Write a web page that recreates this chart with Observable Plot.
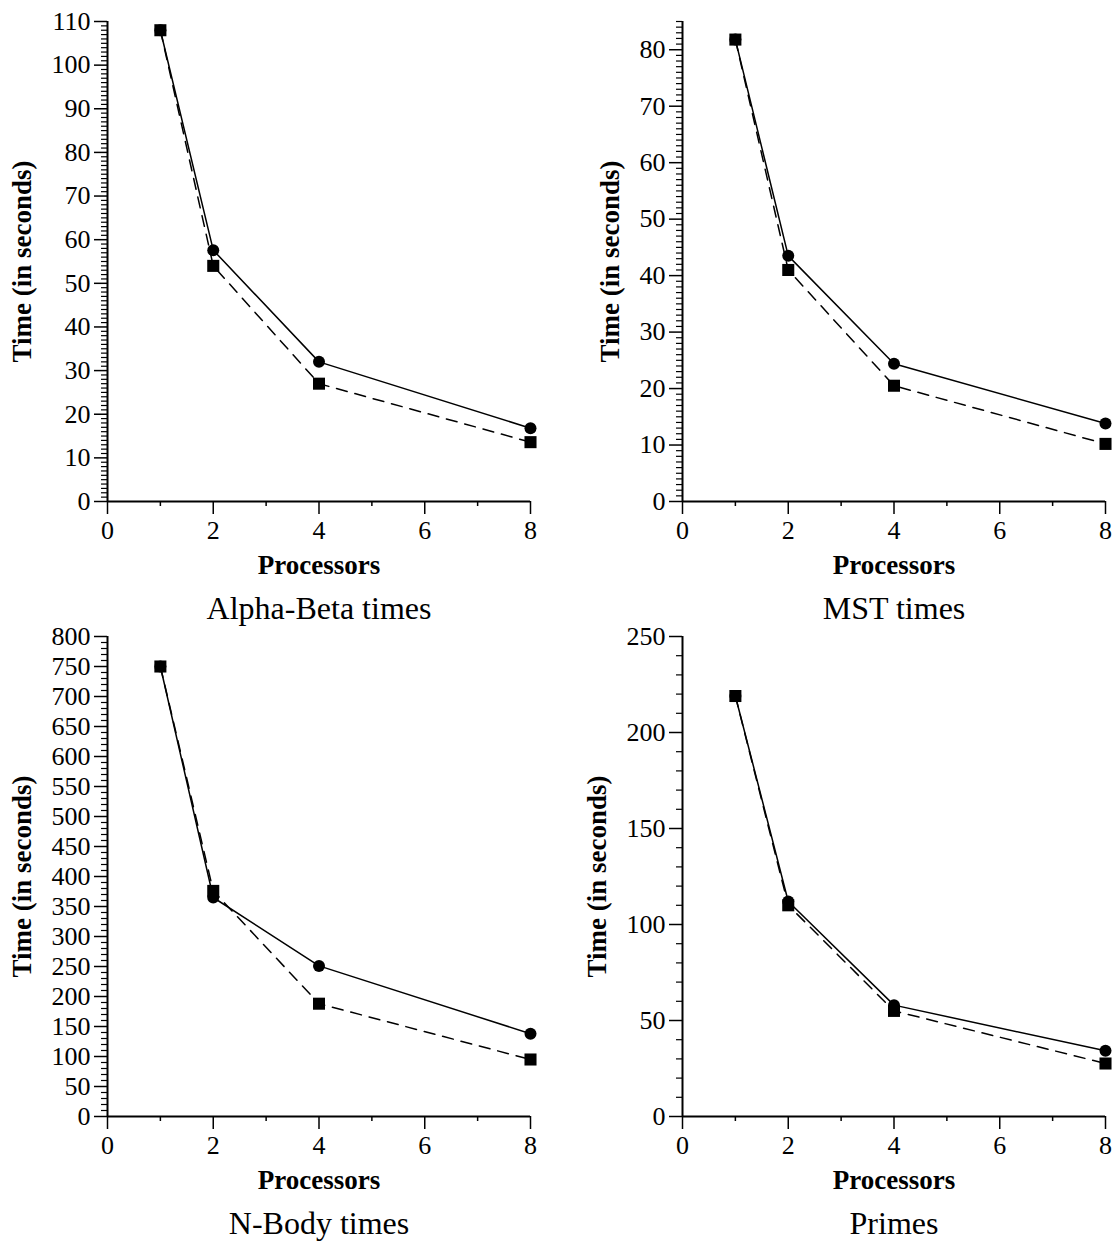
<!DOCTYPE html>
<html>
<head>
<meta charset="utf-8">
<script src="https://cdn.jsdelivr.net/npm/d3@7"></script>
<script src="https://cdn.jsdelivr.net/npm/@observablehq/plot@0.6"></script>
<style>
  html, body { margin: 0; padding: 0; background: white; }
  #chart { position: relative; width: 1114px; height: 1243px; background: white; overflow: hidden; }
  #chart svg { position: absolute; }
  #chart svg text { font-family: "Liberation Serif", "Times New Roman", Times, serif; }
</style>
</head>
<body>
<div id="chart"></div>
<script>
// ---- data ----
const processors = [1, 2, 4, 8];

const titles = ["Alpha-Beta times", "MST times", "N-Body times", "Primes"];
const xLabel = "Processors";
const yLabel = "Time (in seconds)";

// circle markers, solid line
const alphaBetaCircle = [108, 57.6, 32, 16.8];
const mstCircle       = [81.8, 43.5, 24.4, 13.8];
const nbodyCircle     = [750, 365, 251, 138];
const primesCircle    = [219, 112, 58, 34.2];

// square markers, dashed line
const alphaBetaSquare = [108, 54, 27, 13.6];
const mstSquare       = [81.8, 41, 20.5, 10.2];
const nbodySquare     = [750, 376, 188, 95];
const primesSquare    = [219, 110, 55, 27.6];

// axis ticks
const xMajorTicks = [0, 2, 4, 6, 8];
const xMinorTicks = [1, 3, 5, 7];
const alphaBetaYTicks = [0, 10, 20, 30, 40, 50, 60, 70, 80, 90, 100, 110];
const mstYTicks       = [0, 10, 20, 30, 40, 50, 60, 70, 80];
const nbodyYTicks     = [0, 50, 100, 150, 200, 250, 300, 350, 400, 450, 500, 550, 600, 650, 700, 750, 800];
const primesYTicks    = [0, 50, 100, 150, 200, 250];

const alphaBetaYDomain = [0, 110];
const mstYDomain       = [0, 85];
const nbodyYDomain     = [0, 800];
const primesYDomain    = [0, 250];

const alphaBetaMinorStep = 1;
const mstMinorStep = 1;
const nbodyMinorStep = 10;
const primesMinorStep = 10;

// ---- drawing ----
const FONT = "Liberation Serif, Times New Roman, Times, serif";
const container = document.getElementById("chart");

function panel({circle, square, yDomain, yTicks, minorStep, title, left, top, marginLeft, marginRight, labelDx}) {
  const data = processors.map((p, i) => ({p, c: circle[i], s: square[i]}));
  const majorSet = new Set(yTicks);
  const yMinor = d3.range(yDomain[0], yDomain[1] + minorStep / 2, minorStep)
    .map(v => +v.toFixed(6)).filter(v => !majorSet.has(v));
  const height = 628;
  const marginTop = 21;
  const marginBottom = height - marginTop - 480;
  const svg = Plot.plot({
    width: 557,
    height,
    marginTop, marginBottom, marginLeft, marginRight,
    style: {fontFamily: FONT, fontSize: "26px", background: "transparent", overflow: "visible", color: "black"},
    x: {domain: [0, 8]},
    y: {domain: yDomain},
    marks: [
      Plot.axisY({ticks: yMinor, tickSize: 6, tickFormat: () => "", label: null, strokeWidth: 1.2}),
      Plot.axisY({ticks: yTicks, tickSize: 13, tickPadding: 4, label: null, fontSize: 26, strokeWidth: 1.5}),
      Plot.axisX({ticks: xMinorTicks, tickSize: 5, tickFormat: () => "", label: null, strokeWidth: 1.5}),
      Plot.axisX({ticks: xMajorTicks, tickSize: 13, tickPadding: 6, label: null, fontSize: 26, strokeWidth: 1.5}),
      Plot.ruleY([yDomain[0]], {stroke: "black", strokeWidth: 2}),
      Plot.ruleX([0], {stroke: "black", strokeWidth: 2}),
      Plot.line(data, {x: "p", y: "s", stroke: "black", strokeWidth: 1.5, strokeDasharray: "11,8"}),
      Plot.line(data, {x: "p", y: "c", stroke: "black", strokeWidth: 1.5}),
      Plot.dot(data, {x: "p", y: "c", r: 6, fill: "black", stroke: "none"}),
      Plot.dot(data, {x: "p", y: "s", r: 6.8, symbol: "square", fill: "black", stroke: "none"}),
      Plot.text([xLabel], {text: d => d, frameAnchor: "bottom", textAnchor: "middle", dy: 72, fontWeight: "bold", fontSize: 27, fill: "black"}),
      Plot.text([title], {text: d => d, frameAnchor: "bottom", textAnchor: "middle", dy: 117, fontSize: 32, fill: "black"}),
      Plot.text([yLabel], {text: d => d, frameAnchor: "left", textAnchor: "middle", dx: labelDx, rotate: -90, fontWeight: "bold", fontSize: 27, fill: "black"})
    ]
  });
  svg.style.left = left + "px";
  svg.style.top = top + "px";
  container.appendChild(svg);
}

panel({circle: alphaBetaCircle, square: alphaBetaSquare, yDomain: alphaBetaYDomain, yTicks: alphaBetaYTicks,
  minorStep: alphaBetaMinorStep, title: titles[0], left: 0, top: 0, marginLeft: 107, marginRight: 27, labelDx: -85});
panel({circle: mstCircle, square: mstSquare, yDomain: mstYDomain, yTicks: mstYTicks,
  minorStep: mstMinorStep, title: titles[1], left: 557, top: 0, marginLeft: 125, marginRight: 9, labelDx: -72});
panel({circle: nbodyCircle, square: nbodySquare, yDomain: nbodyYDomain, yTicks: nbodyYTicks,
  minorStep: nbodyMinorStep, title: titles[2], left: 0, top: 615, marginLeft: 107, marginRight: 27, labelDx: -85});
panel({circle: primesCircle, square: primesSquare, yDomain: primesYDomain, yTicks: primesYTicks,
  minorStep: primesMinorStep, title: titles[3], left: 557, top: 615, marginLeft: 125, marginRight: 9, labelDx: -85});
</script>
</body>
</html>
